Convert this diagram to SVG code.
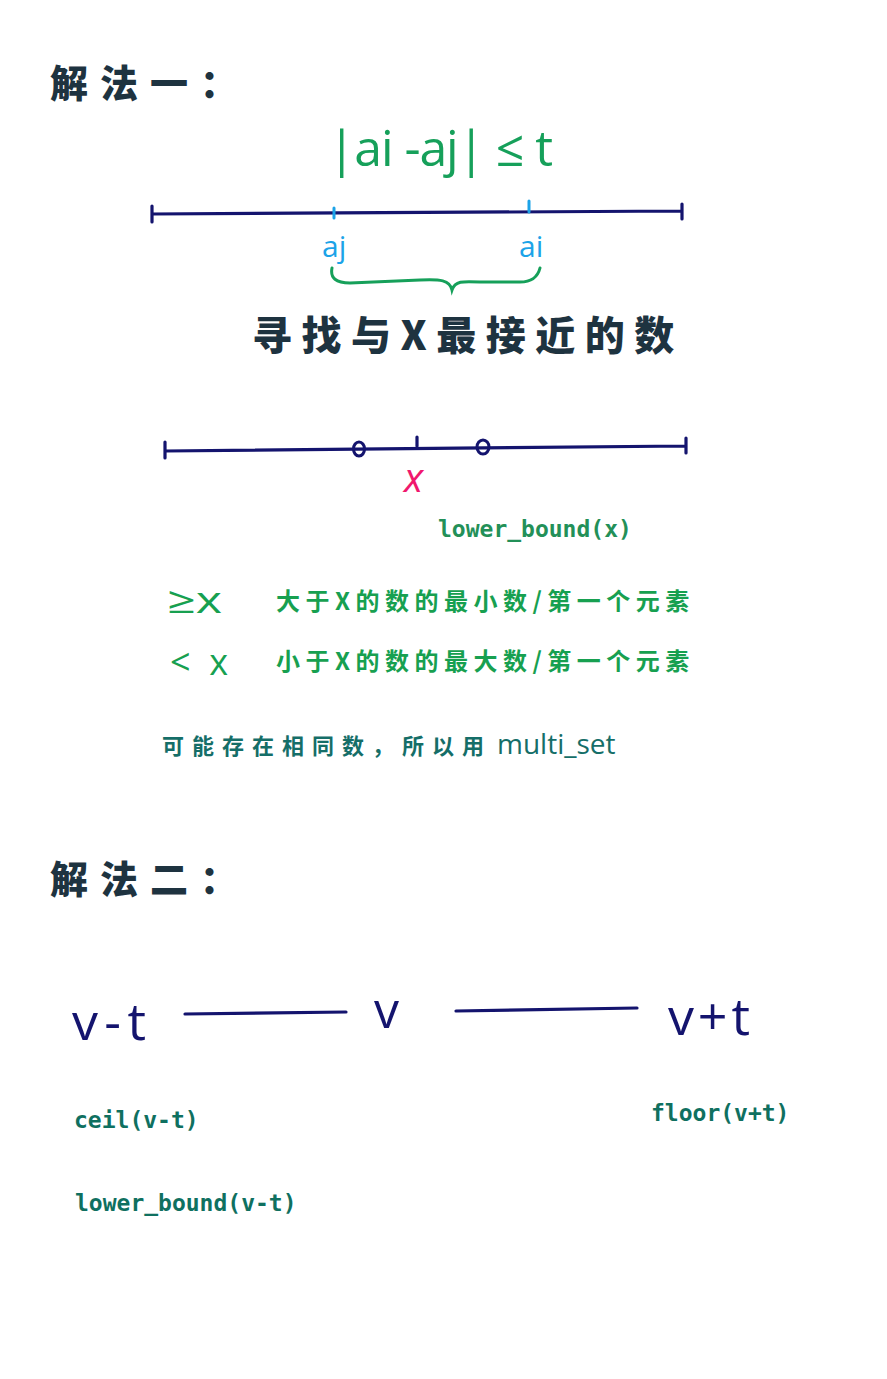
<svg xmlns="http://www.w3.org/2000/svg" width="887" height="1379" viewBox="0 0 887 1379">
<style>
.bg{fill:#ffffff}
.ln{stroke:#14146e;stroke-width:3.2;stroke-linecap:round;fill:none}
.hd{font-family:"Noto Sans CJK SC","Noto Sans",sans-serif;font-weight:900;fill:#1e3340}
.cn{font-family:"Noto Sans CJK SC",sans-serif;font-weight:700}
.mono{font-family:"DejaVu Sans Mono","Liberation Mono",monospace;font-weight:700}
.hand{font-family:"Open Sans","DejaVu Sans",sans-serif;font-weight:400}
</style>
<rect class="bg" x="0" y="0" width="887" height="1379"/>

<g id="title1">
<text class="hd" x="50" y="97" font-size="38" letter-spacing="12">解法一：</text>
</g>

<g id="formula">
<text class="hand" x="328" y="166" font-size="50" fill="#16a05a" textLength="225" lengthAdjust="spacing">|ai -aj| ≤ t</text>
</g>

<g id="line1">
<path class="ln" d="M152,214 L682,211 M152,206 L152,222 M682,204 L682,219"/>
<path d="M334,208 L334,218 M529,201 L529,212" stroke="#1ca3e8" stroke-width="3" stroke-linecap="round"/>
<text class="hand" x="322" y="257" font-size="30" fill="#1ca3e8">aj</text>
<text class="hand" x="519" y="257" font-size="30" fill="#1ca3e8">ai</text>
<path d="M332,268 C330,278 336,283 350,283 L420,280 C440,279 450,280 452,290 C455,281 462,281 480,282 L520,282 C533,282 538,276 540,268" stroke="#16a05a" stroke-width="3" fill="none" stroke-linecap="round"/>
</g>

<g id="title-find">
<text class="hd" x="252" y="350" font-size="40" letter-spacing="9.5">寻找与X最接近的数</text>
</g>

<g id="line2">
<path class="ln" d="M165,451 L686,446 M165,442 L165,458 M686,438 L686,453 M417,437 L417,446"/>
<ellipse cx="359" cy="449" rx="5.5" ry="7" stroke="#14146e" stroke-width="3" fill="none"/>
<ellipse cx="483" cy="447" rx="6" ry="7" stroke="#14146e" stroke-width="3" fill="none"/>
<text class="hand" x="404" y="492" font-size="40" fill="#f0186e" font-style="italic">x</text>
<text class="mono" x="438" y="537" font-size="23" fill="#239058">lower_bound(x)</text>
</g>

<g id="rules">
<text class="hand" x="167" y="613" font-size="36" fill="#17a050" textLength="55" lengthAdjust="spacingAndGlyphs">≥x</text>
<text class="cn" x="276" y="610" font-size="24" letter-spacing="5.5" fill="#17a050">大于X的数的最小数/第一个元素</text>
<text class="hand" x="170" y="675" font-size="36" fill="#17a050" textLength="58" lengthAdjust="spacing">&lt; x</text>
<text class="cn" x="276" y="670" font-size="24" letter-spacing="5.5" fill="#17a050">小于X的数的最大数/第一个元素</text>
</g>

<g id="note">
<text x="162" y="754" fill="#156e68"><tspan class="cn" font-size="22" letter-spacing="8">可能存在相同数，所以用</tspan><tspan font-family="Open Sans, sans-serif" font-size="28" x="497">multi_set</tspan></text>
</g>

<g id="title2">
<text class="hd" x="50" y="893" font-size="38" letter-spacing="12">解法二：</text>
</g>

<g id="range">
<text class="hand" x="72" y="1040" font-size="52" fill="#14146e" textLength="74" lengthAdjust="spacing">v-t</text>
<text class="hand" x="374" y="1028" font-size="50" fill="#14146e">v</text>
<text class="hand" x="668" y="1035" font-size="52" fill="#14146e" textLength="82" lengthAdjust="spacing">v+t</text>
</g>

<g id="connectors">
<path class="ln" d="M185,1014 L346,1012 M456,1011 L637,1008"/>
</g>

<g id="labels2">
<text class="mono" x="74" y="1128" font-size="23" fill="#0f7060">ceil(v-t)</text>
<text class="mono" x="651" y="1121" font-size="23" fill="#0f7060">floor(v+t)</text>
<text class="mono" x="75" y="1211" font-size="23" fill="#0f7060">lower_bound(v-t)</text>
</g>
</svg>
